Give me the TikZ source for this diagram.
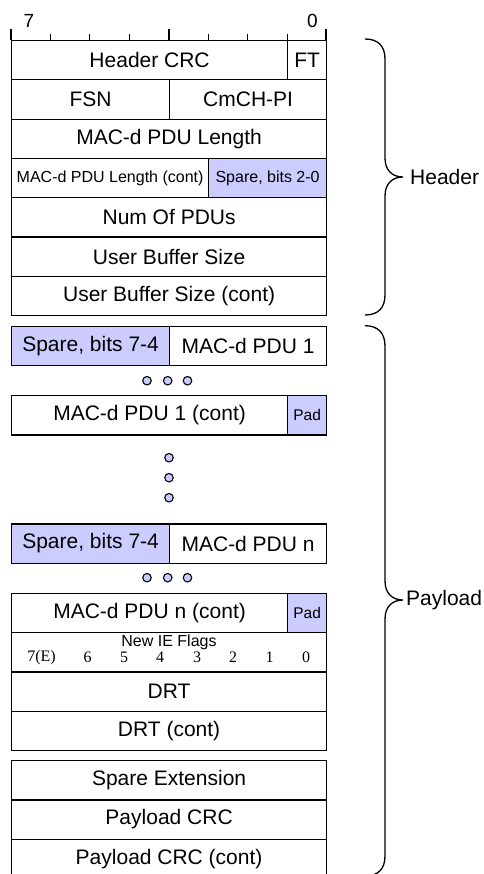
\documentclass[tikz,border=0pt]{standalone}
\usepackage{fontspec}
\setmainfont{Liberation Sans}
\newfontfamily\serifdig{Liberation Serif}
\definecolor{spare}{HTML}{CCCCFF}
\begin{document}
\begin{tikzpicture}[x=1pt,y=-1pt,
  cell/.style={draw, line width=1.2pt, inner sep=0pt, anchor=north west,
    minimum height=39.3pt, font=\fontsize{21}{21}\selectfont},
  sparecell/.style={cell, fill=spare},
  smalltxt/.style={font=\fontsize{16}{16}\selectfont},
  padtxt/.style={font=\fontsize{15.5}{15.5}\selectfont},
  digit/.style={font=\serifdig\fontsize{16}{16}\selectfont, inner sep=0pt},
  dot/.style={circle, draw, line width=1.1pt, fill=spare, minimum size=8.5pt, inner sep=0pt},
  tick/.style={line width=1.2pt},
  bracepath/.style={line width=1.3pt},
  lbl/.style={font=\fontsize{21}{21}\selectfont, anchor=west, inner sep=0pt}]
\useasboundingbox (0,0) rectangle (483,874);

% bit scale
\node[font=\fontsize{19}{19}\selectfont, inner sep=0pt] (b7lbl) at (29,21) {7};
\node[font=\fontsize{19}{19}\selectfont, inner sep=0pt] (b0lbl) at (312.5,21) {0};
\draw[tick] (11,29.5) -- (11,40);
\draw[tick] (169,29.5) -- (169,40);
\draw[tick] (326,29.5) -- (326,40);
\foreach \x in {50.4,89.8,129.1,208.4,247.8,287.1} \draw[tick] (\x,34.5) -- (\x,40);

% header
\node[cell, minimum width=276pt] (hcrc) at (11,40) {Header CRC};
\node[cell, minimum width=39pt] (ft) at (287,40) {FT};
\node[cell, minimum width=158pt] (fsn) at (11,79.3) {FSN};
\node[cell, minimum width=157pt] (cmch) at (169,79.3) {CmCH-PI};
\node[cell, minimum width=315pt] (len) at (11,118.6) {MAC-d PDU Length};
\node[cell, minimum width=197pt, smalltxt] (lenc) at (11,157.9) {MAC-d PDU Length (cont)};
\node[sparecell, minimum width=118pt, smalltxt] (sp20) at (208,157.9) {Spare, bits 2-0};
\node[cell, minimum width=315pt] (num) at (11,197.2) {Num Of PDUs};
\node[cell, minimum width=315pt] (ubs) at (11,236.5) {User Buffer Size};
\node[cell, minimum width=315pt] (ubsc) at (11,275.8) {User Buffer Size (cont)};

% payload
\node[sparecell, minimum width=158pt] (sp1) at (11,325.7) {Spare, bits 7-4};
\node[cell, minimum width=157pt] (pdu1) at (169,325.7) {MAC-d PDU 1};
\node[dot] (d1a) at (147,380.7) {};
\node[dot] (d1b) at (167.7,380.7) {};
\node[dot] (d1c) at (187.5,380.7) {};
\node[cell, minimum width=276pt] (pdu1c) at (11,395) {MAC-d PDU 1 (cont)};
\node[sparecell, minimum width=39pt, padtxt] (pad1) at (287,395) {Pad};
\node[dot] (v1) at (169,457.7) {};
\node[dot] (v2) at (169,477.7) {};
\node[dot] (v3) at (169,497.7) {};
\node[sparecell, minimum width=158pt] (spn) at (11,523.3) {Spare, bits 7-4};
\node[cell, minimum width=157pt] (pdun) at (169,523.3) {MAC-d PDU n};
\node[dot] (dna) at (147,577.7) {};
\node[dot] (dnb) at (167.7,577.7) {};
\node[dot] (dnc) at (187.5,577.7) {};
\node[cell, minimum width=276pt] (pdunc) at (11,592.7) {MAC-d PDU n (cont)};
\node[sparecell, minimum width=39pt, padtxt] (padn) at (287,592.7) {Pad};
\node[cell, minimum width=315pt] (ie) at (11,632) {};
\node[smalltxt, inner sep=0pt] (ielbl) at (169,642) {New IE Flags};
\node[digit] (f7) at (41.5,657.5) {7(E)};
\node[digit] (f6) at (87.7,657.5) {6};
\node[digit] (f5) at (124,657.5) {5};
\node[digit] (f4) at (160,657.5) {4};
\node[digit] (f3) at (197,657.5) {3};
\node[digit] (f2) at (233,657.5) {2};
\node[digit] (f1) at (269.5,657.5) {1};
\node[digit] (f0) at (306,657.5) {0};
\node[cell, minimum width=315pt] (drt) at (11,671.3) {DRT};
\node[cell, minimum width=315pt] (drtc) at (11,710.6) {DRT (cont)};
\node[cell, minimum width=315pt] (spext) at (11,760) {Spare Extension};
\node[cell, minimum width=315pt] (pcrc) at (11,799.3) {Payload CRC};
\node[cell, minimum width=315pt] (pcrcc) at (11,838.6) {Payload CRC (cont)};

% braces
\draw[bracepath] (365,39) .. controls (378,39) and (385,46) .. (385,59)
  -- (385,158) .. controls (385,170) and (392,177) .. (403,177)
  .. controls (392,177) and (385,184) .. (385,196)
  -- (385,295) .. controls (385,308) and (378,315) .. (365,315);
\node[lbl] (hdr) at (410,177) {Header};
\draw[bracepath] (365,325.7) .. controls (378,325.7) and (385,333) .. (385,346)
  -- (385,581) .. controls (385,593) and (392,600) .. (403,600)
  .. controls (392,600) and (385,607) .. (385,619)
  -- (385,856) .. controls (385,869) and (378,876) .. (365,876);
\node[lbl] (pld) at (406,600) {Payload};
\end{tikzpicture}
\end{document}
